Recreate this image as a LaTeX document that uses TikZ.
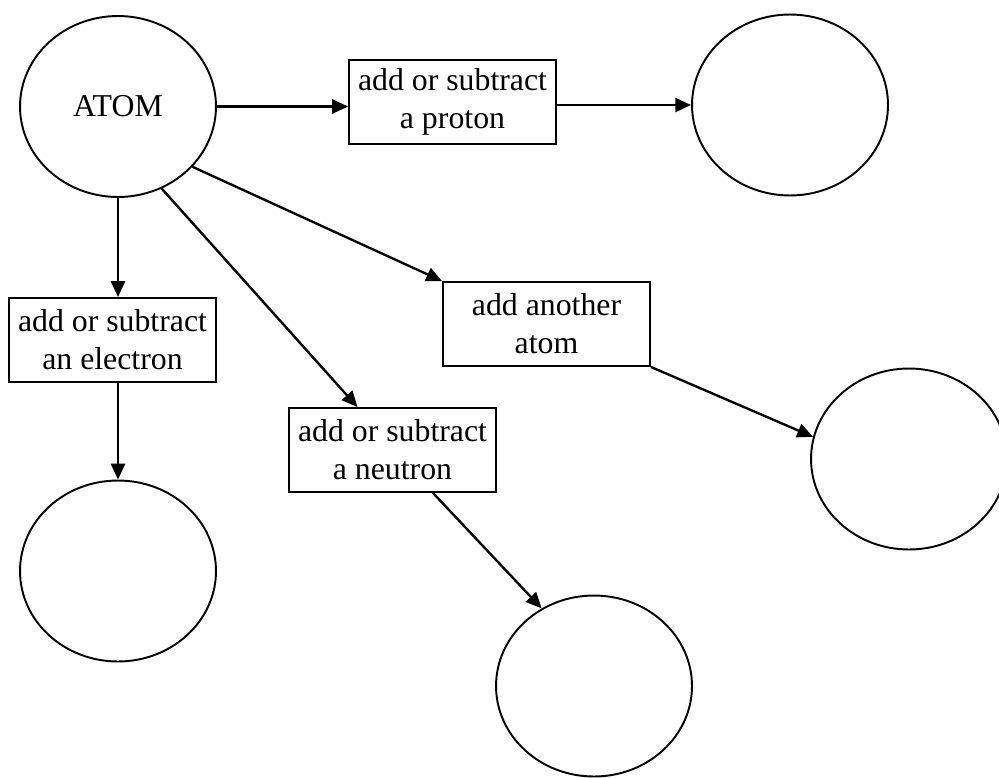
\documentclass[tikz,border=0pt]{standalone}
\usepackage{fontspec}
\setmainfont{Liberation Serif}
\usetikzlibrary{shapes.geometric,arrows.meta}
\tikzset{
  ring/.style={ellipse, draw, line width=1.1pt, minimum width=3.92cm, minimum height=3.62cm},
  opbox/.style={rectangle, draw, line width=1.1pt, minimum width=4.14cm, minimum height=1.68cm, align=center, inner sep=2pt},
  arr/.style={line width=1.35pt, -{Triangle[length=9pt,width=8pt]}}
}

\begin{document}
\begin{tikzpicture}[x=0.02cm, y=-0.02cm, every node/.style={font=\fontsize{18.1}{21.6}\selectfont}]
      \clip (0,0) rectangle (999,777);
      % atom and the four changes
      \node[ring] (atom) at (118,106.5) {ATOM};
      \node[opbox] (proton) at (452.5,102) {add or subtract\\a proton};
      \node[opbox] (electron) at (112.5,340) {add or subtract\\an electron};
      \node[opbox] (another) at (546.5,324) {add another\\atom};
      \node[opbox] (neutron) at (392.5,450) {add or subtract\\a neutron};
      % empty results
      \node[ring] (elem) at (790,105) {};
      \node[ring] (ion) at (118,571) {};
      \node[ring] (mol) at (909,459) {};
      \node[ring] (iso) at (594,686) {};
      % arrows
      \draw[arr] (atom.east) -- (atom.east -| proton.west);
      \draw[arr] (proton.east |- elem.west) -- (elem.west);
      \draw[arr] (atom.south) -- (atom.south |- electron.north);
      \draw[arr] (atom.south |- electron.south) -- (ion.north);
      \draw[arr] (atom.-62) -- ([xshift=-0.7cm]neutron.north);
      \draw[arr] ([xshift=0.81cm]neutron.south) -- (iso.124);
      \draw[arr] (atom.-39) -- (another.north west);
      \draw[arr] (another.south east) -- (mol.167);
    \end{tikzpicture}
\end{document}
